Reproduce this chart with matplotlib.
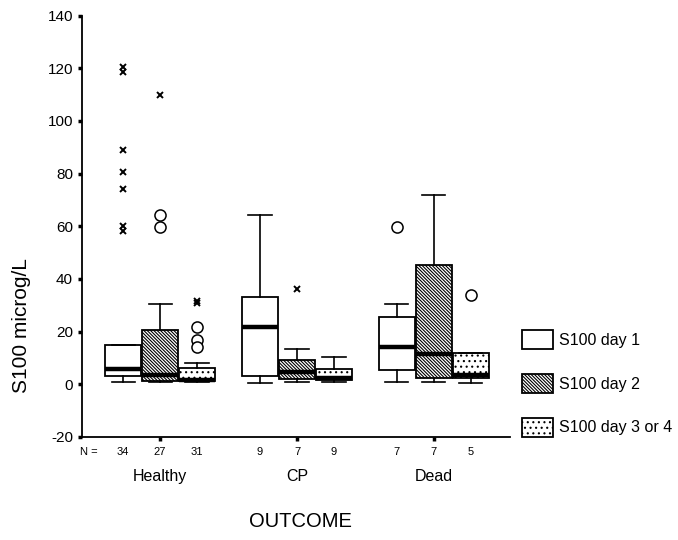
import numpy as np
import matplotlib
matplotlib.use("Agg")
import matplotlib.pyplot as plt
from matplotlib.patches import Patch
import matplotlib.transforms as mtransforms

plt.rcParams['font.family'] = ['Liberation Sans', 'DejaVu Sans']
plt.rcParams['hatch.linewidth'] = 0.8
plt.rcParams['axes.unicode_minus'] = False

groups = ["Healthy", "CP", "Dead"]
series = ["S100 day 1", "S100 day 2", "S100 day 3 or 4"]
n_counts = [[34, 27, 31], [9, 7, 9], [7, 7, 5]]

# five-number summaries per group, per day: whislo, q1, med, q3, whishi
whislo = [[1.0, 1.0, 1.0], [0.4, 1.0, 1.0], [1.0, 1.0, 0.4]]
q1 = [[3.1, 1.4, 1.1], [3.2, 1.9, 1.6], [5.4, 2.3, 2.5]]
med = [[5.7, 3.5, 1.6], [21.6, 4.8, 2.3], [14.0, 11.5, 3.5]]
q3 = [[15.0, 20.6, 6.1], [33.2, 9.2, 5.8], [25.4, 45.2, 11.7]]
whishi = [[15.0, 30.4, 8.2], [64.4, 13.3, 10.5], [30.4, 71.7, 11.7]]

# outliers (circles) and extremes (crosses)
outliers = [[[], [64.4, 59.7], [21.8, 16.8, 14.3]],
            [[], [], []],
            [[59.7], [], [33.8]]]
extremes = [[[120.6, 118.7, 89.1, 80.8, 74.2, 60.0, 58.2], [110.0], [31.6, 31.0]],
            [[], [36.0], []],
            [[], [], []]]

hatches = ['', '\\' * 10, '...']
offset = 0.27
width = 0.26

fig = plt.figure(figsize=(6.78, 5.40), dpi=100)
ax = fig.add_axes([0.121, 0.191, 0.631, 0.780])

for g in range(3):
    for d in range(3):
        pos = g + 1 + (d - 1) * offset
        st = dict(whislo=whislo[g][d], q1=q1[g][d], med=med[g][d],
                  q3=q3[g][d], whishi=whishi[g][d], fliers=[])
        ax.bxp([st], positions=[pos], widths=width, capwidths=width * 0.65,
               showfliers=False, patch_artist=True,
               boxprops=dict(facecolor='white', edgecolor='black',
                             linewidth=1.3, hatch=hatches[d]),
               medianprops=dict(color='black', linewidth=3.2),
               whiskerprops=dict(color='black', linewidth=1.2),
               capprops=dict(color='black', linewidth=1.2),
               manage_ticks=False)
        if outliers[g][d]:
            ax.plot([pos] * len(outliers[g][d]), outliers[g][d], 'o',
                    mfc='white', mec='black', ms=8, mew=1.1)
        if extremes[g][d]:
            ax.plot([pos] * len(extremes[g][d]), extremes[g][d], 'x',
                    color='black', ms=5, mew=1.4)

ax.set_xlim(0.43, 3.555)
ax.set_ylim(-20, 140)
ax.set_yticks(np.arange(-20, 141, 20))
ax.set_xticks([1, 2, 3])
ax.set_xticklabels([])
ax.spines['top'].set_visible(False)
ax.spines['right'].set_visible(False)
ax.spines['left'].set_linewidth(1.3)
ax.spines['bottom'].set_linewidth(1.3)
ax.tick_params(axis='both', direction='out', length=3, width=2.5, labelsize=11)

trans = mtransforms.blended_transform_factory(ax.transData, ax.transAxes)
ax.text(0.478, -0.036, "N =", transform=trans, ha='center', va='center', fontsize=8)
for g in range(3):
    for d in range(3):
        pos = g + 1 + (d - 1) * offset
        ax.text(pos, -0.036, str(n_counts[g][d]), transform=trans,
                ha='center', va='center', fontsize=8)
    ax.text(g + 1, -0.095, groups[g], transform=trans,
            ha='center', va='center', fontsize=11.5)

fig.text(0.4435, 0.034, "OUTCOME", ha='center', va='center', fontsize=14.5)
fig.text(0.032, 0.398, "S100 microg/L", rotation=90, ha='center', va='center', fontsize=15)

handles = [Patch(facecolor='white', edgecolor='black', linewidth=1.3, hatch=h) for h in hatches]
fig.legend(handles, series, loc='center left', bbox_to_anchor=(0.748, 0.29),
           frameon=False, fontsize=11.5, handlelength=1.95, handleheight=1.45,
           labelspacing=1.55, handletextpad=0.4)

fig.savefig("out.png", dpi=100)
